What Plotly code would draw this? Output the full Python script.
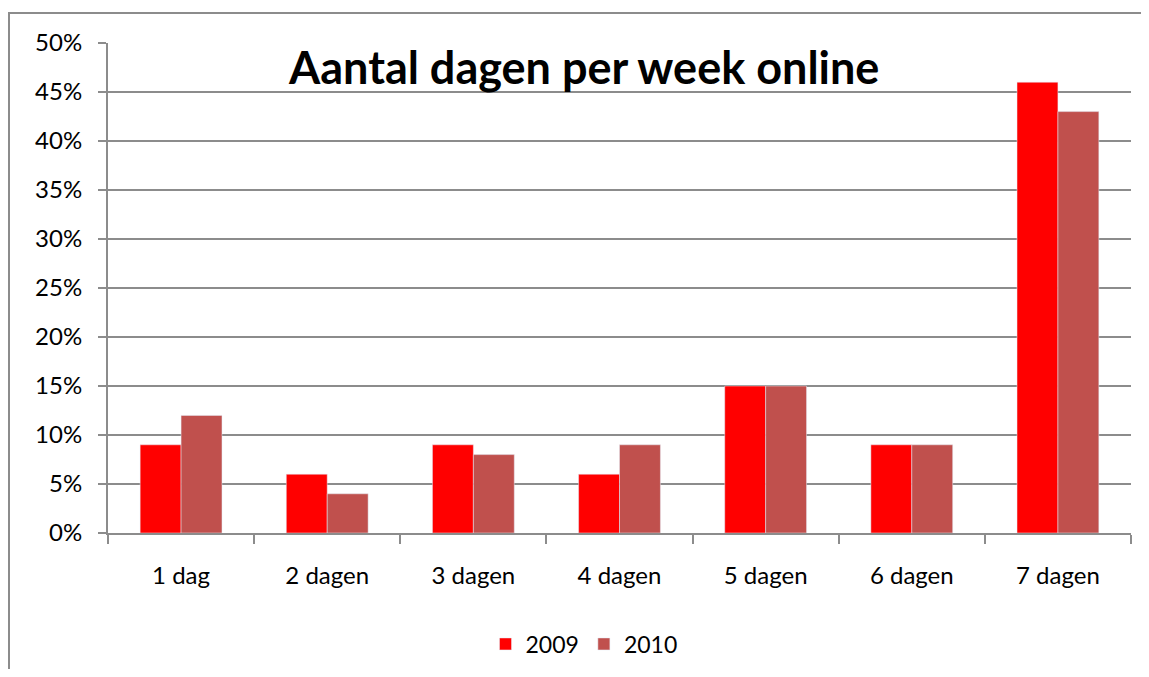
import plotly.graph_objects as go

categories = ["1 dag", "2 dagen", "3 dagen", "4 dagen", "5 dagen", "6 dagen", "7 dagen"]
values_2009 = [9, 6, 9, 6, 15, 9, 46]
values_2010 = [12, 4, 8, 9, 15, 9, 43]
y_ticks = [0, 5, 10, 15, 20, 25, 30, 35, 40, 45, 50]
y_tick_labels = [f"{v}%" for v in y_ticks]

# page is rendered with an 8px body margin; work in figure pixels = page pixels - 8
OFF = 8
W, H = 1133, 661
L, R, T, B = 108 - OFF, 1131 - OFF, 43 - OFF, 533 - OFF

font = "Lato, Calibri, Carlito, sans-serif"
grid = "#8c8c8c"

fig = go.Figure()
fig.add_trace(go.Bar(name="2009", x=categories, y=values_2009, marker_color="#FF0000"))
fig.add_trace(go.Bar(name="2010", x=categories, y=values_2010, marker_color="#C0504D"))

def px_x(p):
    return (p - OFF - L) / (R - L)

def px_y(p):
    return (B - (p - OFF)) / (B - T)

fig.update_layout(
    width=W, height=H, autosize=False,
    margin=dict(l=L, r=W - R, t=T, b=H - B, pad=0, autoexpand=False),
    paper_bgcolor="white", plot_bgcolor="white",
    barmode="group", bargap=0.44, bargroupgap=0,
    font=dict(family=font, size=24, color="black"),
    showlegend=True,
    legend=dict(orientation="h", xref="container", yref="container",
                x=(584 - OFF) / W, y=1 - (644 - OFF) / H, xanchor="center", yanchor="middle",
                font=dict(size=23), itemwidth=30, traceorder="normal"),
    xaxis=dict(showgrid=False, showline=True, linecolor=grid, linewidth=2,
               ticks="outside", tickson="boundaries", ticklen=9, tickcolor=grid, tickwidth=2,
               ticklabelstandoff=20, automargin=False),
    yaxis=dict(range=[0, 50], tickvals=y_ticks, ticktext=y_tick_labels,
               showgrid=True, gridcolor=grid, gridwidth=2,
               showline=True, linecolor=grid, linewidth=2,
               ticks="outside", ticklen=8, tickcolor=grid, tickwidth=2,
               ticklabelstandoff=11, zeroline=False, automargin=False),
    shapes=[
        dict(type="line", xref="paper", yref="paper", x0=px_x(8), x1=px_x(1160), y0=px_y(13), y1=px_y(13),
             line=dict(color=grid, width=2)),
        dict(type="line", xref="paper", yref="paper", x0=px_x(9), x1=px_x(9), y0=px_y(13), y1=px_y(700),
             line=dict(color=grid, width=2)),
    ],
    annotations=[
        dict(text="<b>Aantal dagen per week online</b>", xref="paper", yref="paper",
             x=px_x(583), y=px_y(67), xanchor="center", yanchor="middle", showarrow=False,
             font=dict(family=font, size=45, color="black")),
    ],
)

fig.write_html("out.html")
